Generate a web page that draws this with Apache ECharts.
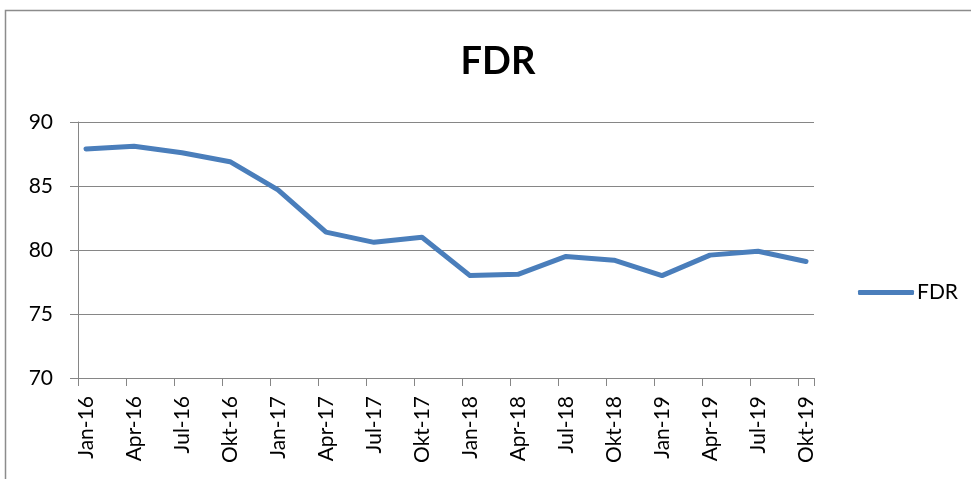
<!DOCTYPE html>
<html>
<head>
<meta charset="utf-8">
<script src="https://cdn.jsdelivr.net/npm/echarts@6/dist/echarts.min.js"></script>
<style>
html,body{margin:0;padding:0;background:#fff;}
#chart{width:971px;height:479px;}
</style>
</head>
<body>
<div id="chart"></div>
<script>
// Month names (German) used to build the monthly date axis
const monthNames = ['Jan','Feb','Mär','Apr','Mai','Jun','Jul','Aug','Sep','Okt','Nov','Dez'];
const years = ['16','17','18','19'];
// Quarterly tick labels / data categories
const quarterLabels = ['Jan-16','Apr-16','Jul-16','Okt-16','Jan-17','Apr-17','Jul-17','Okt-17',
  'Jan-18','Apr-18','Jul-18','Okt-18','Jan-19','Apr-19','Jul-19','Okt-19'];
// FDR values
const fdrValues = [87.9, 88.1, 87.6, 86.9, 84.7, 81.4, 80.6, 81.0,
  78.0, 78.1, 79.5, 79.2, 78.0, 79.6, 79.9, 79.1];
const yTicks = [70, 75, 80, 85, 90];

// Monthly categories Jan-16 .. Okt-19 (date axis, base unit month)
const monthCats = [];
years.forEach(y => monthNames.forEach(m => monthCats.push(m + '-' + y)));
const lastIdx = monthCats.indexOf(quarterLabels[quarterLabels.length - 1]);
const categories = monthCats.slice(0, lastIdx + 1);
const labelSet = new Set(quarterLabels);

const font = 'Lato, "Open Sans", sans-serif';
const gray = '#868686';
const blue = '#4a7ebb';

const chart = echarts.init(document.getElementById('chart'), null, {renderer: 'canvas'});
chart.setOption({
  animation: false,
  backgroundColor: '#fff',
  title: {
    text: 'FDR',
    left: 493, top: 38, textAlign: 'center',
    textStyle: {fontFamily: font, fontWeight: 'bold', fontSize: 38, color: '#000'}
  },
  legend: {
    show: true,
    left: 853, top: 277,
    icon: 'roundRect',
    itemWidth: 56, itemHeight: 5, itemGap: 4,
    textStyle: {fontFamily: font, fontSize: 21, color: '#000', padding: [0,0,0,-2]},
    data: [{name: 'FDR', itemStyle: {color: blue}}]
  },
  grid: {left: 78, top: 122, width: 736, height: 256, containLabel: false},
  xAxis: {
    type: 'category',
    data: categories,
    boundaryGap: true,
    axisLine: {lineStyle: {color: gray, width: 1}},
    axisTick: {
      show: true, length: 8, alignWithLabel: false,
      interval: (i) => i % 3 === 0 && i < categories.length,
      lineStyle: {color: gray, width: 1}
    },
    axisLabel: {
      interval: (i, v) => labelSet.has(v),
      rotate: 90, margin: 18,
      fontFamily: font, fontSize: 21, color: '#000'
    },
    splitLine: {show: false}
  },
  yAxis: {
    type: 'value',
    min: yTicks[0], max: yTicks[yTicks.length - 1], interval: 5,
    axisLine: {show: true, lineStyle: {color: gray, width: 1}},
    axisTick: {show: true, length: 8, lineStyle: {color: gray, width: 1}},
    axisLabel: {margin: 25, fontFamily: font, fontSize: 21, color: '#000'},
    splitLine: {show: true, lineStyle: {color: gray, width: 1}}
  },
  series: [{
    name: 'FDR',
    type: 'line',
    data: quarterLabels.map((l, i) => [l, fdrValues[i]]),
    symbol: 'none',
    lineStyle: {color: blue, width: 5, cap: 'round', join: 'round'},
    itemStyle: {color: blue}
  }],
  graphic: [{
    type: 'rect',
    shape: {x: 5.5, y: 10.5, width: 1000, height: 600},
    style: {fill: 'none', stroke: '#8c8c8c', lineWidth: 1.5},
    silent: true
  }]
});
</script>
</body>
</html>
